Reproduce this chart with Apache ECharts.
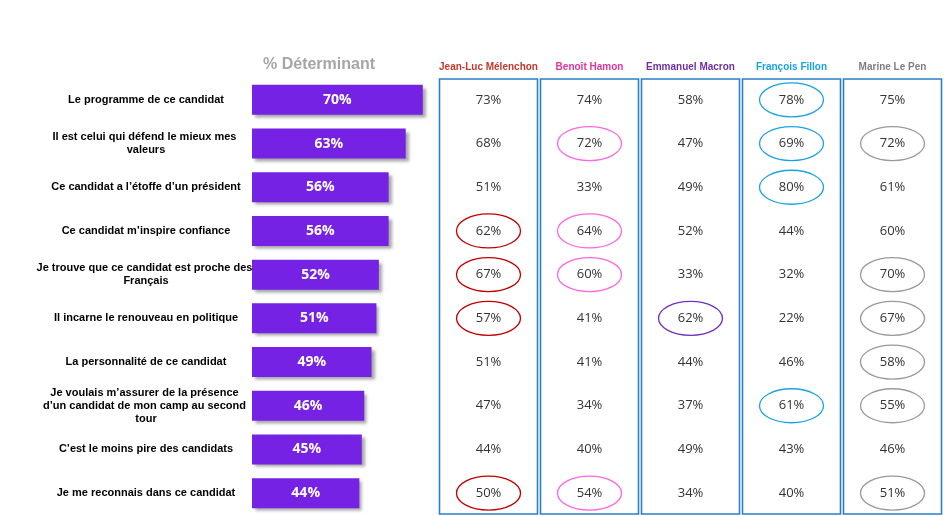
<!DOCTYPE html><html><head><meta charset="utf-8"><script src="https://cdn.jsdelivr.net/npm/echarts@6/dist/echarts.min.js"></script></head><body style="margin:0"><div id="c" style="width:946px;height:516px"></div><script>
const reasons=["Le programme de ce candidat","Il est celui qui défend le mieux mes valeurs","Ce candidat a l’étoffe d’un président","Ce candidat m’inspire confiance","Je trouve que ce candidat est proche des Français","Il incarne le renouveau en politique","La personnalité de ce candidat","Je voulais m’assurer de la présence d’un candidat de mon camp au second tour","C’est le moins pire des candidats","Je me reconnais dans ce candidat"];
const determinant=[70,63,56,56,52,51,49,46,45,44];
const candidates=["Jean-Luc Mélenchon","Benoît Hamon","Emmanuel Macron","François Fillon","Marine Le Pen"];
const candColors=["#c0392b","#e0359a","#7030a0","#1aa3e0","#7f7f7f"];
const circleColors=["#c00000","#ff66e0","#7030c0","#1aa3e0","#9a9a9a"];
const melenchon=[73,68,51,62,67,57,51,47,44,50];
const hamon=[74,72,33,64,60,41,41,34,40,54];
const macron=[58,47,49,52,33,62,44,37,49,34];
const fillon=[78,69,80,44,32,22,46,61,43,40];
const lepen=[75,72,61,60,70,67,58,55,46,51];
const circled=[[3,4,5,9],[1,3,4,9],[5],[0,1,2,7],[1,4,5,6,7,9]];
const cols=[melenchon,hamon,macron,fillon,lepen];
const cells=[];
cols.forEach((arr,c)=>arr.forEach((v,r)=>cells.push([c,r,v,circled[c].includes(r)?1:0])));
const rich={};candColors.forEach((c,i)=>rich['c'+i]={color:c,fontSize:10,fontWeight:'bold',fontFamily:'Liberation Sans'});
const chart=echarts.init(document.getElementById('c'));
chart.setOption({
 title:{text:'% Déterminant',left:258,top:52,textStyle:{color:'#a6a6a6',fontSize:16,fontWeight:'bold',fontFamily:'Liberation Sans'}},
 grid:[{left:252,top:78,width:244,height:437},{left:438,top:78,width:505,height:437}],
 xAxis:[{gridIndex:0,type:'value',min:0,max:100,show:false},
  {gridIndex:1,type:'category',data:candidates,position:'top',axisLine:{show:false},axisTick:{show:false},
   axisLabel:{interval:0,margin:6,formatter:(v)=>'{c'+candidates.indexOf(v)+'|'+v+'}',rich:rich}}],
 yAxis:[{gridIndex:0,type:'category',data:reasons,inverse:true,axisLine:{show:false},axisTick:{show:false},
   axisLabel:{margin:106,align:'center',width:225,overflow:'break',fontSize:11,fontWeight:'bold',color:'#000',fontFamily:'Liberation Sans',lineHeight:13}},
  {gridIndex:1,type:'category',data:reasons,inverse:true,show:false}],
 series:[
  {type:'bar',xAxisIndex:0,yAxisIndex:0,data:determinant,barWidth:30,
   itemStyle:{color:'#7522e4',shadowColor:'rgba(0,0,0,0.35)',shadowOffsetX:3,shadowOffsetY:3,shadowBlur:3},
   label:{show:true,position:'inside',formatter:'{c}%',color:'#fff',fontWeight:'bold',fontSize:14,fontFamily:'Open Sans'}},
  {type:'custom',xAxisIndex:1,yAxisIndex:1,data:[[0],[1],[2],[3],[4]],
   renderItem:(p,api)=>{const cs=p.coordSys;const bw=api.size([1,0])[0];const x=api.coord([api.value(0),0])[0];
    return {type:'rect',shape:{x:x-bw/2+1.5,y:cs.y+1,width:bw-3,height:cs.height-2},style:{fill:'none',stroke:'#2a7fc8',lineWidth:1.6}};}},
  {type:'custom',xAxisIndex:1,yAxisIndex:1,data:cells,
   renderItem:(p,api)=>{const pt=api.coord([api.value(0),api.value(1)]);const ch=[{type:'text',style:{text:api.value(2)+'%',x:pt[0],y:pt[1],textAlign:'center',textVerticalAlign:'middle',fill:'#333',fontSize:13,fontFamily:'Open Sans'}}];
    if(api.value(3))ch.unshift({type:'ellipse',shape:{cx:pt[0],cy:pt[1],rx:32,ry:17},style:{fill:'none',stroke:circleColors[api.value(0)],lineWidth:1.3}});
    return {type:'group',children:ch};}}
 ]
});
</script></body></html>
